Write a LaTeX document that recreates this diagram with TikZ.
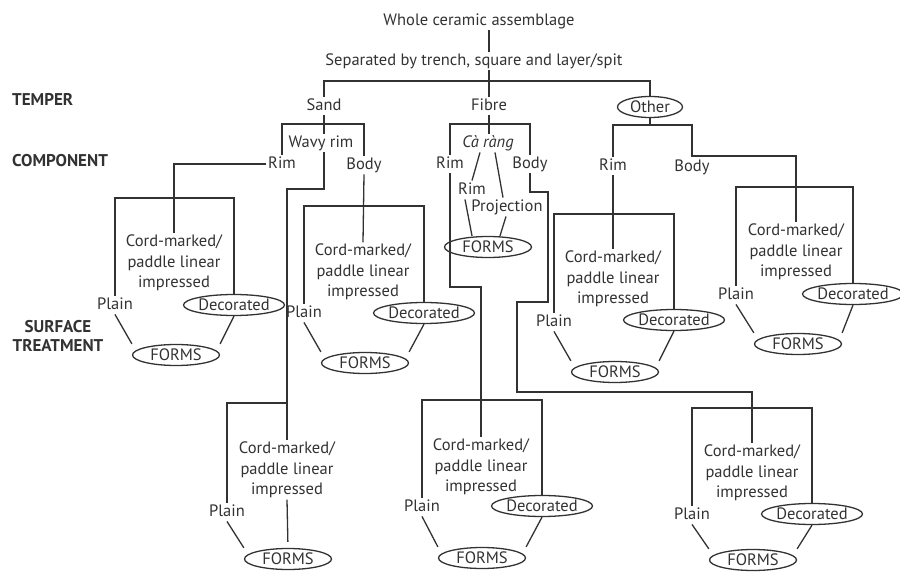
\documentclass[tikz,border=0pt]{standalone}
\usepackage{fontspec}
\setmainfont{PT Sans}
\usetikzlibrary{shapes}
\definecolor{inkgray}{RGB}{50,50,50}

\begin{document}
\begin{tikzpicture}[x = 1pt, y = -1pt, font = \fontsize{16.5}{20.5}\selectfont, color = inkgray]
	\tikzstyle{textStyle} = [inner sep = 1.5pt, text height = 12pt, text depth = 3.5pt]
	\tikzstyle{cordStyle} = [inner sep = 1.5pt, align = center]
	\tikzstyle{headStyle} = [inner sep = 0pt, align = center, font = \fontsize{17}{19}\selectfont\bfseries]
	\tikzstyle{ovalStyle} = [shape = ellipse, draw, line width = 1.3pt, inner xsep = -6pt, inner ysep = -1pt, minimum height = 21pt]
	\tikzstyle{formsStyle} = [ovalStyle, minimum width = 87pt]
	\tikzstyle{decoStyle} = [ovalStyle, minimum width = 101pt]
	\tikzstyle{lineStyle} = [line width = 1.3pt]
	\useasboundingbox (0,0) rectangle (900,572);
	\node[textStyle] (whole) at (479,21) {Whole ceramic assemblage};
	\node[textStyle] (sep) at (474,61) {Separated by trench, square and layer/spit};
	\node[headStyle, anchor = west] (temper) at (12,99) {TEMPER};
	\node[headStyle, anchor = west] (component) at (12,161) {COMPONENT};
	\node[headStyle] (surface) at (58,336) {SURFACE\\TREATMENT};
	\node[textStyle] (sand) at (324,106) {Sand};
	\node[textStyle] (fibre) at (489,106) {Fibre};
	\node[ovalStyle, minimum width = 65pt] (other) at (650,107) {Other};
	\node[textStyle] (sandRim) at (282,164) {Rim};
	\node[textStyle] (wavy) at (321,143) {Wavy rim};
	\node[textStyle] (sandBody) at (364,165) {Body};
	\node[textStyle] (fibreRim) at (450,164) {Rim};
	\node[textStyle, font = \fontsize{16.5}{20.5}\selectfont\itshape] (carang) at (488,143) {Cà ràng};
	\node[textStyle] (fibreBody) at (530,164) {Body};
	\node[textStyle] (subRim) at (472,190) {Rim};
	\node[textStyle] (proj) at (507,207) {Projection};
	\node[formsStyle] (fibreForms) at (488,247) {FORMS};
	\node[textStyle] (otherRim) at (613,166) {Rim};
	\node[textStyle] (otherBody) at (692,167) {Body};
	\node[cordStyle] (cordA) at (174,263) {Cord-marked/\\paddle linear\\impressed};
	\node[textStyle] (plainA) at (115,305) {Plain};
	\node[decoStyle] (decoA) at (234,305) {Decorated};
	\node[formsStyle] (formsA) at (176,355) {FORMS};
	\node[cordStyle] (cordB) at (363,272) {Cord-marked/\\paddle linear\\impressed};
	\node[textStyle] (plainB) at (304,313) {Plain};
	\node[decoStyle] (decoB) at (424,313) {Decorated};
	\node[formsStyle] (formsB) at (365,363) {FORMS};
	\node[cordStyle] (cordC) at (287,470) {Cord-marked/\\paddle linear\\impressed};
	\node[textStyle] (plainC) at (227,512) {Plain};
	\node[formsStyle] (formsC) at (288,559) {FORMS};
	\node[cordStyle] (cordD) at (481,467) {Cord-marked/\\paddle linear\\impressed};
	\node[textStyle] (plainD) at (422,507) {Plain};
	\node[decoStyle] (decoD) at (542,506) {Decorated};
	\node[formsStyle] (formsD) at (482,558) {FORMS};
	\node[cordStyle] (cordE) at (752,473) {Cord-marked/\\paddle linear\\impressed};
	\node[textStyle] (plainE) at (692,515) {Plain};
	\node[decoStyle] (decoE) at (812,514) {Decorated};
	\node[formsStyle] (formsE) at (753,560) {FORMS};
	\node[cordStyle] (cordF) at (613,279) {Cord-marked/\\paddle linear\\impressed};
	\node[textStyle] (plainF) at (554,322) {Plain};
	\node[decoStyle] (decoF) at (674,320) {Decorated};
	\node[formsStyle] (formsF) at (615,372) {FORMS};
	\node[cordStyle] (cordG) at (796,252) {Cord-marked/\\paddle linear\\impressed};
	\node[textStyle] (plainG) at (736,295) {Plain};
	\node[decoStyle] (decoG) at (853,294) {Decorated};
	\node[formsStyle] (formsG) at (798,344) {FORMS};
	\coordinate (topBar) at (489,81);
	\coordinate (sandBar) at (324,124);
	\coordinate (fibreBar) at (489,124);
	\coordinate (otherBar) at (692,125);
	\coordinate (obBend) at (796,156);
	\coordinate (wavyBend) at (287,189);
	\coordinate (fibreRimBend) at (481,287);
	\coordinate (fbA) at (548,192);
	\coordinate (fbB) at (517,302);
	\coordinate (fbC) at (752,392);
	\coordinate (topA) at (174,198);
	\coordinate (topB) at (363,206);
	\coordinate (topC) at (287,403);
	\coordinate (topD) at (481,400);
	\coordinate (topE) at (752,408);
	\coordinate (topF) at (613,214);
	\coordinate (topG) at (796,187);
	\draw[lineStyle] (whole.south -| fibre) -- (sep.north -| fibre);
	\draw[lineStyle] (sep.south -| fibre) -- (fibre.north);
	\draw[lineStyle] (sand.north) |- (topBar) -| (other.north);
	\draw[lineStyle] (sand.south) -- (wavy.north -| sand);
	\draw[lineStyle] (sandRim.north) |- (sandBar) -| (sandBody.north);
	\draw[lineStyle] (fibre.south) -- (carang.north -| fibre);
	\draw[lineStyle] (fibreRim.north) |- (fibreBar) -| (fibreBody.north);
	\draw[lineStyle] (other.south) -- (other.south |- otherBar);
	\draw[lineStyle] (otherRim.north) |- (otherBar) |- (obBend) -- (cordG.north);
	\draw[lineStyle] (otherRim.south) -- (cordF.north);
	\draw[lineStyle] (sandRim.west) -| (cordA.north);
	\draw[lineStyle] (sandBody.south) -- (cordB.north);
	\draw[lineStyle] (wavy.south -| sand) |- (wavyBend) -- (cordC.north);
	\draw[lineStyle] (fibreRim.south) |- (fibreRimBend) -- (cordD.north);
	\draw[lineStyle] (fibreBody.south) |- (fbA) |- (fbB) |- (fbC) -- (cordE.north);
	\draw[lineStyle] ([xshift = -8pt]carang.south) -- (subRim.north);
	\draw[lineStyle] ([xshift = 7pt]carang.south) -- ([xshift = -4pt]proj.north);
	\draw[lineStyle] ([xshift = -7pt]subRim.south) -- ([xshift = -16pt]fibreForms.north);
	\draw[lineStyle] ([xshift = -1pt]proj.south) -- ([xshift = 12pt]fibreForms.north);
	\draw[lineStyle] (plainA.north) |- (topA) -| (decoA.north);
	\draw[lineStyle] (plainA.south) -- (formsA.west |- formsA.north);
	\draw[lineStyle] (decoA.south) -- (formsA.east |- formsA.north);
	\draw[lineStyle] (plainB.north) |- (topB) -| (decoB.north);
	\draw[lineStyle] (plainB.south) -- (formsB.west |- formsB.north);
	\draw[lineStyle] (decoB.south) -- (formsB.east |- formsB.north);
	\draw[lineStyle] (plainC.north) |- (topC);
	\draw[lineStyle] (plainC.south) -- (formsC.west |- formsC.north);
	\draw[lineStyle, shorten > = 6pt] (cordC.south) -- (formsC.north);
	\draw[lineStyle] (plainD.north) |- (topD) -| (decoD.north);
	\draw[lineStyle] (plainD.south) -- (formsD.west |- formsD.north);
	\draw[lineStyle] (decoD.south) -- (formsD.east |- formsD.north);
	\draw[lineStyle] (plainE.north) |- (topE) -| (decoE.north);
	\draw[lineStyle] (plainE.south) -- (formsE.west |- formsE.north);
	\draw[lineStyle] (decoE.south) -- (formsE.east |- formsE.north);
	\draw[lineStyle] (plainF.north) |- (topF) -| (decoF.north);
	\draw[lineStyle] (plainF.south) -- (formsF.west |- formsF.north);
	\draw[lineStyle] (decoF.south) -- (formsF.east |- formsF.north);
	\draw[lineStyle] (plainG.north) |- (topG) -| (decoG.north);
	\draw[lineStyle] (plainG.south) -- (formsG.west |- formsG.north);
	\draw[lineStyle] (decoG.south) -- (formsG.east |- formsG.north);
\end{tikzpicture}
\end{document}
